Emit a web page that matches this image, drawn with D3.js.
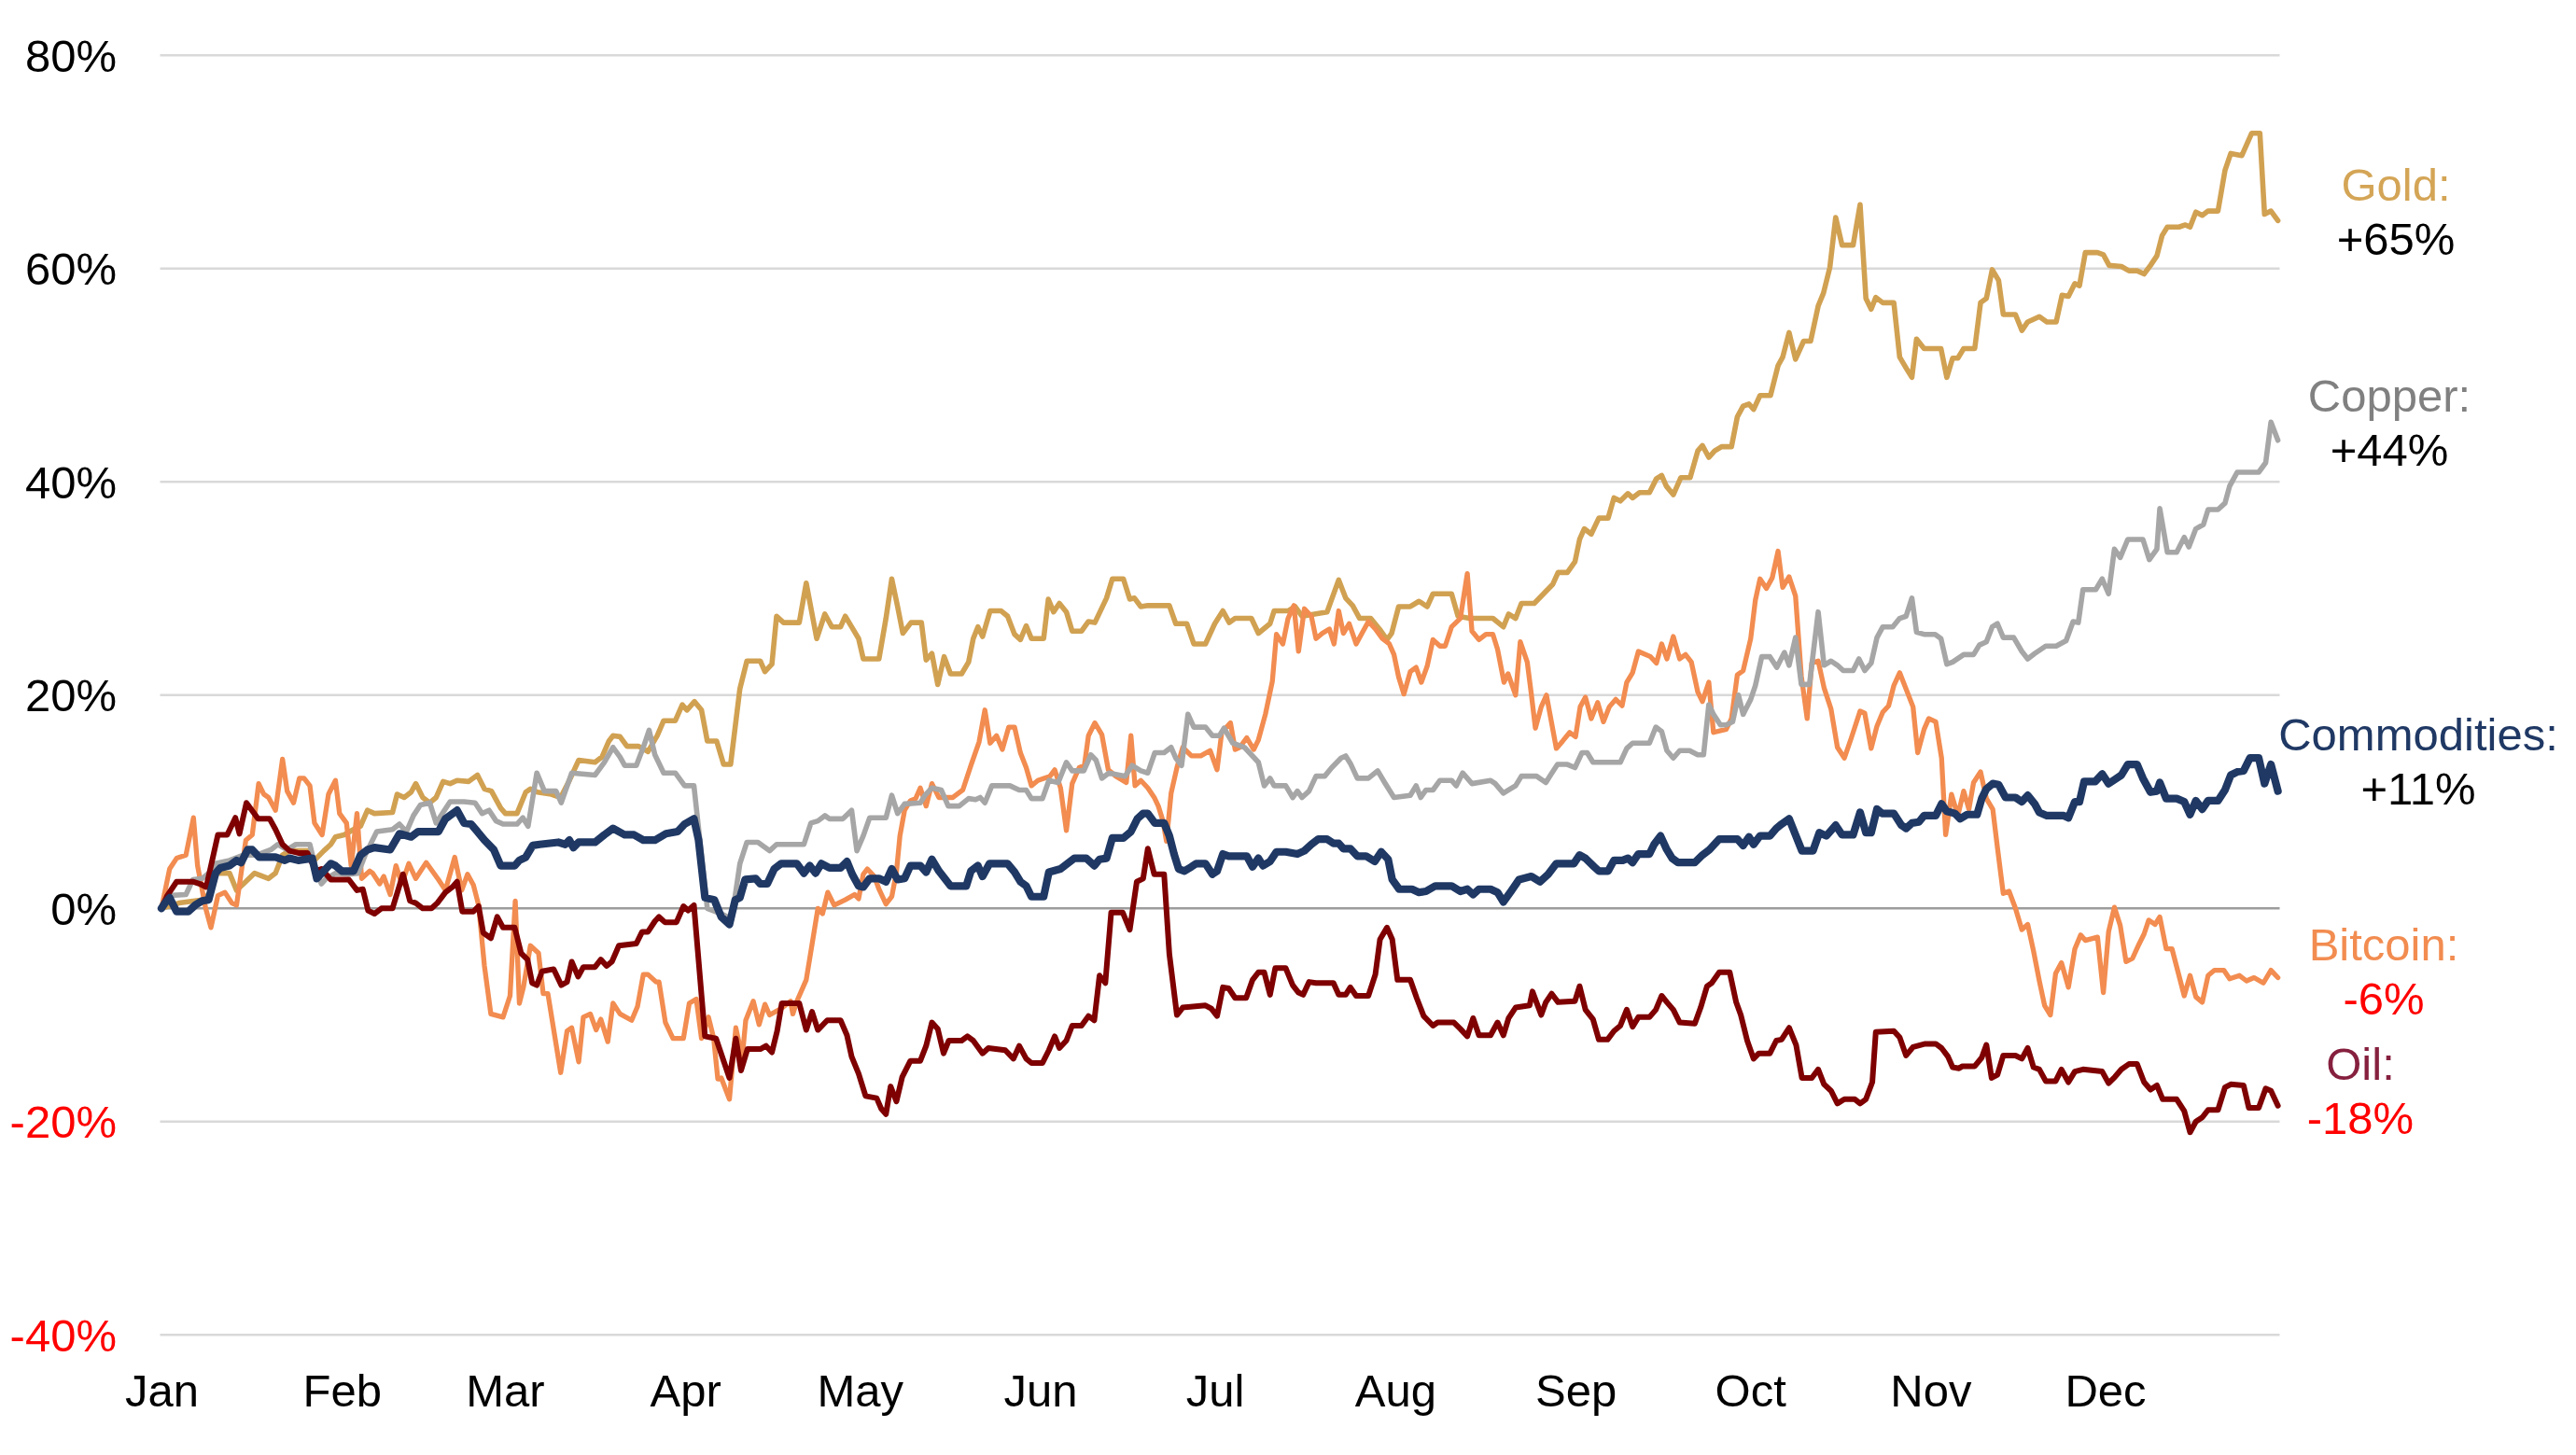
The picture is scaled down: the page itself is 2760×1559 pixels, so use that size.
<!DOCTYPE html>
<html>
<head>
<meta charset="utf-8">
<title>Commodities 2025</title>
<script src="https://cdn.jsdelivr.net/npm/d3@7"></script>
<style>
  html, body { margin: 0; padding: 0; background: #ffffff; }
  svg { display: block; }
  text { font-family: "Liberation Sans", Arial, sans-serif; }
</style>
</head>
<body>
<svg id="chart"></svg>
<script>
// Values: [day of 2025 (0 = 1 Jan), % change since 1 Jan]
const gold = [[0,0],[3,0.5],[7,0.8],[8.1,1.3],[9.3,3.3],[11.7,3.3],[12.9,1.7],[14.1,2.3],[16,3.3],[18.4,2.8],[19.6,3.3],[20.8,5.0],[22,5.4],[25.1,5.4],[25.9,4.3],[27.9,5.4],[29.1,6.0],[29.9,6.7],[31.4,6.9],[33,7.4],[34.2,7.7],[35.4,9.2],[36.6,8.9],[39.7,9.0],[40.5,10.7],[41.7,10.4],[42.9,10.9],[43.7,11.7],[44.9,10.4],[46.1,9.9],[47.2,10.4],[48.4,11.9],[49.6,11.7],[50.8,12.0],[52.8,11.9],[54.3,12.5],[55.5,11.2],[56.7,11.0],[58.3,9.4],[59.1,8.9],[61.1,8.9],[62.6,10.9],[63.4,11.2],[64.6,10.9],[67,10.7],[68.6,10.4],[70.1,12.0],[71.7,13.9],[74.5,13.7],[75.7,14.2],[76.9,15.7],[77.6,16.2],[78.8,16.1],[80,15.2],[82,15.2],[83.6,14.7],[85.2,16.2],[86.3,17.6],[88.3,17.6],[89.5,19.1],[90.3,18.6],[91.6,19.4],[92.8,18.6],[93.8,15.7],[95.4,15.7],[96.6,13.5],[97.8,13.5],[99.4,20.6],[100.6,23.2],[102.9,23.2],[103.7,22.2],[104.9,22.9],[105.7,27.4],[106.9,26.8],[109.6,26.8],[110.8,30.5],[112.6,25.3],[114,27.6],[115.2,26.4],[116.7,26.4],[117.5,27.4],[118.6,26.4],[119.8,25.3],[120.6,23.4],[123.3,23.4],[124.5,27.2],[125.5,30.9],[126.5,28.3],[127.4,25.8],[128.8,26.8],[130.6,26.8],[131.4,23.3],[132.4,23.9],[133.4,21.0],[134.5,23.6],[135.6,22.0],[137.5,22.0],[138.7,23.1],[139.5,25.3],[140.3,26.4],[141.1,25.5],[142.4,27.9],[144.3,27.9],[145.4,27.4],[146.6,25.7],[147.6,25.2],[148.6,26.5],[149.5,25.3],[151.6,25.3],[152.4,29.0],[153.3,27.8],[154.3,28.6],[155.5,27.8],[156.5,26.0],[158.1,26.0],[159.3,26.9],[160.4,26.8],[162.4,29.1],[163.4,30.9],[165.3,30.9],[166.4,29.0],[167.2,29.1],[168.3,28.3],[169.5,28.4],[173.2,28.4],[174.3,26.7],[176.2,26.7],[177.4,24.8],[179.4,24.8],[181,26.7],[182.4,27.9],[183.5,26.8],[184.5,27.2],[187.3,27.2],[188.5,25.8],[190.5,26.7],[191.2,27.9],[193.6,27.9],[194.8,28.3],[196,27.4],[200.3,27.8],[202.3,30.8],[203.5,29.1],[204.7,28.4],[205.9,27.2],[207.8,27.2],[209.3,26.2],[210.6,25.2],[211.4,25.8],[212.6,28.3],[214.6,28.3],[216.1,28.8],[217.5,28.3],[218.5,29.5],[221.7,29.5],[222.8,27.4],[224.8,27.2],[228.8,27.2],[230.6,26.4],[231.5,27.6],[232.7,27.2],[233.7,28.6],[235.9,28.6],[237.5,29.5],[239.1,30.4],[240,31.5],[241.6,31.5],[242.9,32.5],[243.7,34.6],[244.5,35.6],[245.7,35.1],[247,36.6],[248.6,36.6],[249.6,38.5],[250.7,38.2],[252,38.9],[252.8,38.5],[254,39.0],[255.7,39.0],[256.9,40.3],[257.8,40.6],[258.6,39.6],[259.8,38.8],[261.1,40.4],[262.7,40.4],[264,42.9],[264.8,43.4],[265.9,42.3],[266.9,42.9],[268.1,43.3],[269.8,43.3],[270.8,46.1],[271.8,47.1],[272.8,47.3],[273.6,46.8],[274.7,48.1],[276.5,48.1],[277.8,50.9],[278.6,51.7],[279.7,54.0],[280.8,51.5],[282.2,53.2],[283.4,53.2],[284.7,56.5],[285.6,57.7],[286.7,60.1],[287.7,64.8],[288.8,62.2],[290.7,62.2],[291.9,66.0],[292.9,57.2],[293.8,56.2],[294.6,57.3],[295.8,56.8],[297.7,56.8],[298.7,51.7],[300,50.5],[300.8,49.8],[301.6,53.4],[302.9,52.5],[305.8,52.5],[306.8,49.8],[307.8,51.6],[308.7,51.6],[309.7,52.5],[311.6,52.5],[312.6,56.8],[313.6,57.2],[314.6,59.9],[315.7,58.9],[316.5,55.7],[318.6,55.7],[319.7,54.2],[320.7,55.0],[322.7,55.5],[324,55.0],[325.6,55.0],[326.6,57.5],[327.7,57.4],[328.8,58.6],[329.6,58.4],[330.6,61.5],[332.7,61.5],[333.7,61.3],[334.7,60.3],[336.8,60.2],[338.1,59.8],[339.5,59.8],[340.7,59.5],[341.8,60.3],[342.9,61.2],[343.8,63.1],[344.7,63.9],[346.7,63.9],[347.8,64.1],[348.6,63.9],[349.6,65.3],[350.7,65.0],[351.7,65.4],[353.4,65.4],[354.6,69.2],[355.6,70.8],[357.5,70.6],[359.2,72.7],[360.6,72.7],[361.4,65.1],[362.5,65.4],[363.7,64.5]];

const copper = [[0,0],[1,1.2],[4.2,1.3],[5.4,2.7],[7,2.8],[8.1,3.3],[9.3,4.2],[11.7,4.5],[14.1,5.0],[16.4,5.0],[18.8,5.5],[20,6.0],[21.6,5.5],[23.1,6.0],[25.5,6.0],[26.7,3.3],[27.5,2.3],[28.3,2.8],[29.9,3.3],[32.2,3.2],[33.8,3.3],[35,5.0],[37,7.2],[39.7,7.4],[40.9,7.9],[42.1,7.2],[43.3,8.7],[44.5,9.7],[46.1,9.9],[47.2,8.0],[49.6,10.0],[52,10.0],[53.9,9.9],[55.1,8.9],[56.3,9.2],[57.5,8.2],[58.7,7.9],[61.1,7.9],[62.1,8.5],[63,7.7],[64.5,12.7],[65.8,11.0],[67.8,11.0],[68.7,9.9],[70.5,12.7],[74.5,12.5],[76.1,13.7],[77.6,15.1],[78.8,14.2],[79.6,13.4],[81.6,13.4],[82.8,15.1],[83.8,16.7],[84.8,14.4],[86.3,12.7],[88.3,12.7],[89.9,11.5],[91.5,11.5],[93.8,0.0],[96.2,-0.5],[98,-1.0],[99.4,4.2],[100.6,6.2],[102.5,6.2],[104.5,5.4],[105.7,6.0],[110.4,6.0],[111.6,8.0],[112.8,8.2],[114,8.7],[114.8,8.4],[117.1,8.4],[118.6,9.2],[119.5,5.4],[120.6,6.8],[121.7,8.5],[124.5,8.5],[125.5,10.6],[126.5,8.9],[127.7,9.8],[130.4,9.9],[131.2,10.6],[132.4,11.3],[134,11.1],[135.2,9.6],[137.1,9.6],[138.7,10.3],[139.9,10.2],[140.7,10.4],[141.5,9.9],[142.7,11.5],[145.8,11.5],[147.4,11.1],[148.6,11.1],[149.5,10.3],[151.4,10.3],[152.5,12.0],[154.1,11.8],[155.5,13.7],[156.5,12.9],[158.5,12.9],[159.7,14.4],[160.6,13.9],[161.6,12.2],[162.8,12.7],[165.6,12.4],[166.8,13.4],[168.3,12.9],[169.5,12.7],[170.7,14.6],[172.3,14.6],[173.5,15.1],[174.3,14.1],[175.3,13.4],[176.4,18.2],[177.4,17.0],[179.4,17.0],[180.6,16.2],[181.8,16.2],[182.6,16.9],[184.1,15.5],[186.1,15.1],[187.3,14.4],[188.5,13.7],[189.5,11.5],[190.5,12.2],[191.2,11.5],[193.2,11.5],[194.4,10.4],[195.2,11.0],[196,10.4],[197.2,11.0],[198.4,12.4],[199.9,12.4],[201.1,13.2],[202.7,14.1],[203.5,14.3],[204.3,13.6],[205.5,12.2],[207.4,12.2],[209,12.9],[210.2,11.8],[211.8,10.4],[214.6,10.6],[215.6,11.5],[216.4,10.4],[217.3,11.1],[218.5,11.1],[219.7,12.0],[221.7,12.0],[222.5,11.5],[223.6,12.7],[225.2,11.7],[228.4,12.0],[229.2,11.7],[230.6,10.8],[231.5,11.1],[232.7,11.5],[233.7,12.4],[236.3,12.4],[237.9,11.8],[238.7,12.5],[239.9,13.5],[241.6,13.5],[242.9,13.2],[244.1,14.6],[245,14.6],[246,13.7],[250.7,13.7],[251.8,15.0],[252.8,15.5],[255.7,15.5],[256.8,17.0],[257.8,16.6],[258.7,14.8],[259.8,14.1],[260.9,14.8],[262.6,14.8],[264,14.4],[265,14.4],[265.9,19.1],[266.7,18.2],[267.9,17.2],[268.9,17.2],[270,17.5],[271,20.0],[271.8,18.2],[273.1,19.6],[273.9,20.9],[275,23.6],[276.4,23.6],[277.6,22.6],[278.9,24.0],[279.7,22.8],[280.8,25.4],[281.8,21.0],[283.2,21.0],[284.7,27.8],[285.7,22.8],[286.9,23.2],[288,22.8],[289,22.3],[290.7,22.3],[291.7,23.4],[292.7,22.3],[293.8,23.0],[294.8,25.4],[295.8,26.4],[297.5,26.4],[298.7,27.2],[299.8,27.4],[300.8,29.1],[301.6,25.9],[302.9,25.7],[304.8,25.7],[305.8,25.3],[306.8,22.9],[307.8,23.1],[309.7,23.8],[311.4,23.8],[312.4,24.7],[313.6,25.0],[314.6,26.4],[315.5,26.7],[316.5,25.4],[318.3,25.4],[319.7,24.1],[320.7,23.4],[321.9,23.9],[323.8,24.6],[325.6,24.6],[327.3,25.1],[328.5,26.9],[329.4,26.8],[330.2,29.9],[332.4,29.9],[333.5,30.9],[334.6,29.5],[335.6,33.7],[336.6,32.9],[337.9,34.6],[340.5,34.6],[341.6,32.7],[342.9,33.7],[343.4,37.5],[344.7,33.4],[346.3,33.4],[347.6,34.8],[348.4,33.9],[349.6,35.6],[350.9,36.0],[351.7,37.4],[353.4,37.4],[354.6,38.0],[355.4,39.6],[356.7,40.9],[360.4,40.9],[361.6,41.8],[362.5,45.6],[363.7,43.9]];

const bitcoin = [[0,0],[1.4,3.7],[2.6,4.7],[4.2,5.0],[5.5,8.5],[6.2,4.0],[7.6,0],[8.5,-1.8],[9.7,1.2],[10.9,1.5],[12.1,0.5],[12.9,0.3],[14.5,6.4],[15.6,6.9],[16.7,11.7],[17.6,10.7],[18.4,10.4],[19.6,9.2],[20.8,14.0],[21.6,11.0],[22.7,9.9],[23.7,12.2],[24.5,12.2],[25.5,11.5],[26.3,8.0],[27.6,6.9],[28.7,10.7],[29.9,12.0],[30.6,8.9],[31.8,8.0],[32.6,4.0],[33.6,8.9],[34.4,2.8],[35.8,3.5],[36.3,3.3],[37.5,2.3],[38.2,3.0],[39.3,1.3],[40.3,4.0],[41.3,2.3],[42.5,4.2],[43.7,2.8],[45.5,4.3],[47.6,2.7],[48.8,1.7],[50.4,4.8],[51.6,1.7],[52.6,3.2],[53.6,2.2],[54.5,0.3],[55.5,-5.4],[56.6,-9.9],[58.7,-10.2],[59.9,-8.2],[60.8,0.7],[61.5,-8.9],[62.2,-7.4],[63.4,-3.5],[64.8,-4.2],[65.6,-8.0],[66.4,-8.0],[68.6,-15.4],[69.7,-11.5],[70.5,-11.2],[71.7,-14.4],[72.5,-10.2],[73.7,-9.9],[74.7,-11.4],[75.5,-10.4],[76.7,-12.5],[77.6,-8.9],[78.8,-9.9],[80.8,-10.5],[81.8,-9.2],[82.8,-6.2],[83.6,-6.2],[85,-6.9],[85.5,-6.9],[86.6,-10.7],[87.9,-12.2],[89.7,-12.2],[90.7,-8.9],[91.9,-8.5],[92.8,-12.2],[94,-10.2],[94.9,-12.2],[95.6,-16.0],[96.2,-15.9],[97.6,-17.9],[98.7,-11.2],[99.8,-14.0],[100.4,-10.5],[101.7,-8.7],[102.7,-10.9],[103.7,-9.0],[104.5,-10.0],[106.5,-9.4],[108.1,-8.7],[108.5,-9.9],[109.2,-8.7],[110.8,-6.7],[112,-2.7],[112.8,0],[113.6,-0.5],[114.5,1.5],[115.6,0.3],[117.5,0.8],[119.1,1.3],[119.8,0.9],[120.6,3.2],[121.3,3.7],[122.5,3.0],[123.3,1.8],[124.5,0.4],[125.5,1.1],[126.3,3.4],[126.9,6.8],[127.7,9.2],[128.7,10.1],[129.6,10.3],[130.4,11.3],[131.4,9.6],[132.4,11.7],[133.6,10.4],[136,10.4],[137.7,11.1],[139.1,13.4],[140.5,15.6],[141.5,18.6],[142.4,15.5],[143.5,16.2],[144.5,14.9],[145.6,17.0],[146.6,17.0],[147.6,14.6],[148.6,13.2],[149.5,11.5],[150.6,12.0],[152.7,12.4],[153.5,13.0],[154.5,11.3],[155.5,7.3],[156.5,11.7],[157.7,13.2],[158.6,13.4],[159.3,16.2],[160.4,17.4],[161.6,16.3],[162.7,13.0],[164,12.4],[165.8,11.8],[166.6,16.2],[167.3,11.5],[168.3,12.0],[169.5,11.3],[170.6,10.4],[171.3,9.6],[172.1,8.2],[172.7,6.3],[173.5,10.8],[174.5,13.2],[175.5,15.1],[177,14.3],[178.6,14.3],[180.2,14.8],[181.4,13.0],[182.2,16.5],[183.7,17.4],[184.5,14.9],[185.3,15.1],[186.5,16.0],[187.7,14.9],[188.5,15.8],[189.7,18.2],[190.9,21.3],[191.6,25.7],[192.7,24.8],[193.6,27.2],[194.6,28.4],[195.4,24.1],[196.4,28.1],[197.6,27.4],[198.4,25.3],[199.5,25.8],[200.7,26.2],[201.5,24.8],[202.3,27.9],[203.1,25.8],[204.1,26.7],[205.3,24.8],[206.3,25.8],[207.4,26.9],[208.6,26.2],[209.8,25.3],[211,24.8],[211.8,23.8],[212.6,21.7],[213.5,20.1],[214.6,22.2],[215.6,22.6],[216.5,21.2],[217.5,22.7],[218.5,25.2],[219.7,24.6],[220.6,24.6],[221.7,26.4],[223.2,27.2],[224.4,31.4],[225.2,26.0],[226.4,25.2],[227.6,25.7],[228.8,25.7],[229.6,24.3],[230.7,21.2],[231.4,22.0],[232.7,20.0],[233.5,25.0],[234.7,23.1],[235.4,20.1],[236.1,16.9],[237.1,18.9],[238,20.0],[239.7,15.0],[240.8,15.7],[242,16.5],[243,16.1],[243.8,18.9],[244.7,19.8],[245.7,17.8],[246.8,19.3],[247.8,17.5],[248.8,18.9],[249.9,19.6],[251,19.0],[251.8,21.2],[252.8,22.1],[253.8,24.1],[255.9,23.6],[256.9,23.0],[257.8,24.8],[258.7,23.4],[259.8,25.5],[260.9,23.4],[261.9,23.8],[262.9,23.1],[264,20.3],[264.8,19.4],[265.9,21.2],[266.7,16.5],[268.9,16.8],[269.8,17.8],[270.8,21.9],[271.8,22.3],[273.1,25.3],[273.9,28.9],[274.7,30.9],[275.8,30.0],[276.8,31.0],[277.8,33.5],[278.6,30.1],[279.7,31.1],[280.8,29.3],[281.8,21.8],[282.8,17.8],[283.6,23.0],[284.7,23.2],[285.7,20.7],[286.9,18.7],[288,15.1],[289.2,14.1],[290.4,16.0],[291.9,18.5],[292.7,18.3],[293.8,15.0],[294.8,17.1],[295.8,18.4],[296.8,19.0],[297.7,20.9],[298.7,22.1],[301,18.9],[301.8,14.6],[302.9,16.8],[303.7,17.8],[304.9,17.5],[305.9,14.1],[306.6,6.9],[307.6,10.7],[308.7,8.7],[309.7,11.0],[310.6,9.3],[311.4,11.8],[312.6,12.8],[313.6,10.3],[314.7,9.3],[315.5,5.7],[316.5,1.4],[317.5,1.6],[318.6,0],[319.7,-2.0],[320.7,-1.5],[321.7,-4.0],[322.7,-6.8],[323.6,-9.1],[324.6,-10.0],[325.5,-6.1],[326.5,-5.1],[327.7,-7.4],[328.8,-3.8],[329.8,-2.5],[330.6,-3.0],[332.7,-2.7],[333.7,-7.9],[334.6,-2.2],[335.6,0.1],[336.6,-1.6],[337.6,-5.0],[338.7,-4.7],[339.7,-3.5],[340.7,-2.4],[341.5,-1.1],[342.6,-1.5],[343.4,-0.8],[344.5,-3.8],[345.5,-3.8],[346.6,-6.1],[347.6,-8.2],[348.6,-6.3],[349.6,-8.3],[350.7,-8.8],[351.7,-6.3],[352.8,-5.8],[354.4,-5.8],[355.4,-6.6],[357.1,-6.3],[358.3,-6.8],[359.6,-6.5],[361.2,-7.0],[362.5,-5.8],[363.7,-6.5]];

const oil = [[0,0],[1,1.2],[2.6,2.5],[5.4,2.5],[6.6,2.3],[7.7,2.0],[9.7,6.9],[11.3,6.9],[12.7,8.5],[13.4,7.0],[14.6,9.9],[16.6,8.4],[18.6,8.4],[19.6,7.4],[20.8,6.0],[22,5.4],[23.5,5.2],[25.1,5.2],[26.5,3.5],[27.5,3.7],[29.1,2.7],[32.2,2.7],[33.6,1.7],[34.6,1.8],[35.5,-0.2],[36.6,-0.5],[37.8,0],[39.7,0],[41.5,3.2],[42.7,0.7],[43.7,0.5],[44.9,0],[46.4,0],[47.4,0.5],[48.8,1.5],[50,2.0],[50.8,2.5],[51.7,-0.3],[53.6,-0.3],[54.5,0.2],[55.3,-2.3],[56.6,-2.8],[57.7,-0.8],[58.7,-1.8],[60.7,-1.8],[61.8,-4.2],[62.9,-4.8],[63.7,-7.0],[64.5,-7.2],[65.4,-5.9],[67.4,-5.7],[68.7,-7.2],[69.7,-6.9],[70.5,-5.0],[71.6,-6.4],[72.5,-5.5],[74.5,-5.5],[75.5,-4.8],[76.5,-5.4],[77.4,-5.0],[78.6,-3.5],[81.6,-3.3],[82.6,-2.2],[83.6,-2.2],[84.8,-1.2],[85.5,-0.8],[86.5,-1.3],[88.5,-1.3],[89.7,0.2],[90.5,-0.2],[91.5,0.3],[93.4,-12.0],[95.3,-12.2],[97.6,-15.9],[98.7,-12.2],[99.6,-15.2],[100.7,-13.2],[102.9,-13.2],[103.9,-12.9],[104.9,-13.5],[105.8,-11.5],[106.6,-8.9],[109.6,-8.9],[110.8,-11.4],[111.8,-9.7],[112.8,-11.4],[114.4,-10.5],[116.7,-10.5],[117.8,-11.9],[118.6,-13.9],[119.8,-15.5],[121,-17.6],[122.9,-17.8],[123.7,-18.8],[124.5,-19.3],[125.3,-16.7],[126.3,-18.1],[127.3,-15.8],[128.7,-14.3],[130.4,-14.3],[131.4,-12.9],[132.4,-10.7],[133.4,-11.3],[134.4,-13.6],[135.3,-12.4],[137.5,-12.4],[138.5,-12.0],[139.5,-12.4],[141.1,-13.6],[142.1,-13.1],[145,-13.3],[146.4,-14.1],[147.4,-12.9],[148.6,-14.1],[149.5,-14.5],[151.4,-14.5],[152.5,-13.3],[153.5,-12.0],[154.3,-13.1],[155.5,-12.4],[156.5,-11.0],[158.1,-11.0],[159.3,-10.1],[160.3,-10.5],[161.2,-6.3],[162.2,-7.0],[163.2,-0.4],[165.2,-0.4],[166.4,-2.0],[167.6,2.5],[168.7,2.8],[169.5,5.6],[170.6,3.2],[172.3,3.2],[173.2,-4.3],[174.5,-10.0],[175.5,-9.3],[179.4,-9.1],[180.4,-9.4],[181.4,-10.1],[182.4,-7.4],[183.4,-7.5],[184.5,-8.4],[186.4,-8.4],[187.5,-6.7],[188.5,-6.0],[189.5,-6.0],[190.5,-8.1],[191.4,-5.6],[193.2,-5.6],[194.4,-7.2],[195.4,-7.9],[196.2,-8.1],[197.2,-6.9],[198.4,-7.0],[201.4,-7.0],[202.3,-8.1],[203.5,-8.1],[204.3,-7.4],[205.3,-8.2],[207.4,-8.2],[208.6,-6.2],[209.4,-2.9],[210.6,-1.8],[211.5,-2.9],[212.4,-6.7],[214.6,-6.7],[215.7,-8.4],[216.9,-10.1],[218.5,-11.0],[219.3,-10.7],[222.1,-10.7],[223.2,-11.3],[224.4,-12.0],[225.4,-10.3],[226.4,-11.9],[228.4,-11.9],[229.6,-10.7],[230.6,-11.9],[231.5,-10.3],[232.7,-9.3],[235.1,-9.1],[235.6,-7.8],[237.1,-10.0],[237.9,-8.8],[238.9,-8.0],[240,-8.8],[242.9,-8.7],[243.7,-7.3],[244.7,-9.5],[246,-10.4],[247,-12.3],[248.5,-12.3],[249.6,-11.5],[250.7,-11.0],[251.8,-9.5],[252.8,-11.1],[253.8,-10.2],[255.7,-10.2],[256.8,-9.5],[257.8,-8.2],[258.7,-8.8],[259.8,-9.5],[260.9,-10.7],[263.5,-10.8],[264.5,-9.3],[265.6,-7.3],[266.4,-7.0],[267.7,-6.0],[269.5,-6.0],[270.6,-8.8],[271.4,-10.0],[272.5,-12.4],[273.6,-14.1],[274.5,-13.6],[276.4,-13.6],[277.5,-12.4],[278.4,-12.3],[279.7,-11.2],[280.9,-12.8],[281.9,-15.9],[283.6,-15.9],[284.7,-15.1],[285.7,-16.5],[286.9,-17.1],[288,-18.3],[289.2,-17.9],[291,-17.9],[291.9,-18.3],[292.9,-17.9],[294,-16.3],[294.6,-11.6],[297.7,-11.5],[298.7,-12.1],[299.8,-13.8],[301,-13.0],[303.1,-12.7],[304.9,-12.7],[305.9,-13.1],[307,-13.9],[307.8,-14.9],[308.9,-15.0],[309.5,-14.8],[311.6,-14.8],[312.8,-14.0],[313.6,-12.8],[314.5,-15.9],[315.5,-15.6],[316.5,-13.8],[318.6,-13.8],[319.7,-14.1],[320.7,-13.1],[321.7,-14.9],[322.7,-15.1],[323.8,-16.2],[325.5,-16.2],[326.5,-15.1],[327.7,-16.3],[328.8,-15.3],[330.2,-15.1],[333.5,-15.3],[334.6,-16.4],[335.7,-15.8],[336.8,-15.1],[338.1,-14.6],[339.5,-14.6],[340.7,-16.3],[341.8,-17.0],[342.9,-16.6],[343.9,-17.9],[346.3,-17.9],[347.6,-19.0],[348.6,-21.0],[349.6,-20.0],[350.7,-19.6],[351.7,-18.9],[353.4,-18.9],[354.6,-16.8],[355.6,-16.5],[357.8,-16.6],[358.7,-18.7],[360.4,-18.7],[361.6,-16.9],[362.5,-17.1],[363.7,-18.5]];

const commodities = [[0,0],[0.6,0.5],[1.4,1.0],[2.6,-0.3],[4.6,-0.3],[5.8,0.3],[7,0.7],[8.1,0.8],[9.3,3.3],[10.1,3.8],[11.7,4.0],[12.9,4.5],[13.7,4.3],[14.8,5.5],[15.6,5.5],[16.8,4.8],[19.6,4.8],[21.2,4.5],[22,4.7],[23.5,4.5],[25.9,4.7],[26.7,2.8],[27.9,3.5],[29.1,4.2],[29.9,4.0],[31,3.5],[33,3.5],[34.2,5.0],[35.4,5.5],[36.6,5.7],[39.3,5.5],[40.9,7.0],[42.9,6.7],[44.1,7.2],[47.6,7.2],[48.8,8.4],[50.8,9.2],[52,8.0],[53.2,7.9],[54.3,7.2],[55.5,6.4],[57.1,5.5],[58.3,4.0],[60.7,4.0],[61.5,4.5],[62.6,4.8],[63.8,5.9],[65,6.0],[68.2,6.2],[69.4,6.0],[70.1,6.4],[70.8,5.7],[71.7,6.2],[74.5,6.2],[76.1,6.9],[77.6,7.5],[79.6,6.9],[81.2,6.9],[82.8,6.4],[84.8,6.4],[86.7,7.0],[88.7,7.2],[89.9,7.9],[91.5,8.4],[92.3,6.4],[93.4,1.0],[95,0.8],[96.2,-0.8],[97.6,-1.5],[98.6,0.8],[99.4,1.0],[100.3,2.7],[102.1,2.8],[102.9,2.3],[104.1,2.3],[105.3,3.7],[106.5,4.2],[109.2,4.2],[110.4,3.3],[111.4,4.0],[112.4,3.3],[113.4,4.2],[114.8,3.8],[116.7,3.8],[117.8,4.4],[118.7,3.2],[119.8,2.1],[120.6,2.0],[121.7,2.8],[123.3,2.8],[124.5,2.5],[125.5,3.7],[126.5,2.7],[127.7,2.8],[128.7,4.0],[130.4,4.0],[131.4,3.4],[132.4,4.6],[133.6,3.5],[135.6,2.1],[138.3,2.1],[139.1,3.5],[140.3,4.0],[141.1,3.0],[142.3,4.2],[145.4,4.2],[146.6,3.4],[147.6,2.5],[148.6,2.1],[149.5,1.1],[151.6,1.1],[152.5,3.4],[154.5,3.7],[155.7,4.2],[156.9,4.7],[158.9,4.7],[160.3,4.0],[161.2,4.6],[162.4,4.7],[163.4,6.6],[165.3,6.6],[166.6,7.2],[167.7,8.4],[168.7,8.9],[169.5,8.9],[170.7,8.0],[172.3,8.0],[173.2,6.8],[174,5.1],[174.8,3.7],[175.8,3.5],[177,3.9],[177.8,4.2],[179.4,4.2],[180.6,3.2],[181.4,3.5],[182.4,5.1],[183.4,4.9],[186.5,4.9],[187.5,3.9],[188.5,4.7],[189.3,4.0],[190.5,4.4],[191.6,5.3],[193.2,5.3],[195.2,5.1],[196.4,5.4],[197.6,6.0],[198.8,6.5],[200.3,6.5],[201.4,6.1],[202.3,6.1],[203.1,5.6],[204.3,5.6],[205.5,4.9],[207,4.9],[208.5,4.4],[209.6,5.3],[210.8,4.6],[211.5,2.7],[212.7,1.8],[214.9,1.8],[216.1,1.5],[217.3,1.6],[218.9,2.1],[221.7,2.1],[223.2,1.6],[224.4,1.8],[225.4,1.3],[226.4,1.8],[228.4,1.8],[229.6,1.5],[230.6,0.6],[231.9,1.6],[233.3,2.7],[235.4,3.0],[236.9,2.5],[238.3,3.2],[239.7,4.2],[242.7,4.2],[243.7,5.0],[244.7,4.7],[246.2,3.9],[247,3.5],[248.6,3.5],[249.6,4.5],[251.1,4.5],[252,4.7],[252.8,4.3],[253.8,5.1],[255.7,5.1],[256.5,6.0],[257.6,6.8],[258.6,5.6],[259.6,4.7],[260.6,4.3],[263.5,4.3],[264.8,5.0],[266,5.5],[267.7,6.5],[270.8,6.5],[271.8,5.9],[272.8,6.7],[273.6,6.0],[274.7,6.8],[276.4,6.8],[277.5,7.5],[278.4,7.9],[279.7,8.4],[280.8,6.9],[281.9,5.4],[283.8,5.4],[284.9,7.1],[286.1,6.8],[287.7,7.8],[288.8,6.9],[290.7,6.9],[291.9,9.0],[292.9,7.1],[293.8,7.1],[294.8,9.3],[295.7,8.9],[297.7,8.9],[299,7.8],[299.8,7.5],[300.8,8.0],[302,8.1],[302.9,8.7],[304.9,8.7],[305.9,9.8],[306.8,9.1],[308.2,8.9],[309.1,8.4],[310.3,8.8],[312,8.8],[312.8,10.3],[313.6,11.2],[314.7,11.7],[315.7,11.6],[316.9,10.4],[318.6,10.4],[319.7,10.0],[320.7,10.6],[321.9,9.8],[322.7,9.0],[324,8.7],[326.9,8.7],[327.7,8.5],[328.8,10.0],[329.6,10.0],[330.4,11.9],[332.3,11.9],[333.5,12.6],[334.6,11.7],[335.7,12.1],[336.8,12.5],[337.9,13.5],[339.5,13.5],[340.5,12.2],[341.8,10.9],[342.9,11.0],[343.4,11.8],[344.5,10.3],[346.3,10.3],[347.6,10.0],[348.6,8.8],[349.6,10.1],[350.7,9.3],[351.7,10.1],[353.4,10.1],[354.6,11.1],[355.6,12.5],[356.7,12.8],[357.8,12.9],[358.9,14.1],[360.4,14.1],[361.4,11.7],[362.5,13.5],[363.7,11.0]];

// Axis ticks
const yTicks = [-40, -20, 0, 20, 40, 60, 80];
const monthLabels = ["Jan", "Feb", "Mar", "Apr", "May", "Jun", "Jul", "Aug", "Sep", "Oct", "Nov", "Dec"];

// End-of-year labels
const labelNames = ["Gold:", "Copper:", "Commodities:", "Bitcoin:", "Oil:"];
const labelValues = ["+65%", "+44%", "+11%", "-6%", "-18%"];

// Styling, kept apart from the data (drawn in this order)
const lineStyles = [
  { data: gold,        color: "#D1A152", width: 5.6 },
  { data: bitcoin,     color: "#F28C50", width: 5.3 },
  { data: copper,      color: "#A6A6A6", width: 5.6 },
  { data: oil,         color: "#7F0000", width: 6.0 },
  { data: commodities, color: "#1F3864", width: 8.2 }
];
const labelStyles = [
  { nameColor: "#D4A556", valueColor: "#000000", x: 2567, y: 215 },
  { nameColor: "#808080", valueColor: "#000000", x: 2560, y: 441 },
  { nameColor: "#1F3864", valueColor: "#000000", x: 2591, y: 804 },
  { nameColor: "#F28C50", valueColor: "#FF0000", x: 2554, y: 1029 },
  { nameColor: "#86203F", valueColor: "#FF0000", x: 2529, y: 1157 }
];

drawChart();

function drawChart() {
  const width = 2760;
  const height = 1559;
  const margin = { top: 59.3, right: 317.5, bottom: 128.7, left: 173 };
  const fontSize = 49;

  const svg = d3.select("#chart")
      .attr("width", width)
      .attr("height", height);

  const start = new Date(2025, 0, 1);
  const end = new Date(2025, 11, 31);
  const toDate = day => new Date(start.getTime() + day * 864e5);

  // X scale (time)
  const x = d3.scaleTime()
      .domain([start, end])
      .range([margin.left, width - margin.right]);

  // Y scale (percent)
  const y = d3.scaleLinear()
      .domain([-40, 80])
      .range([height - margin.bottom, margin.top]);

  // Gridlines
  svg.append("g")
      .selectAll("line")
      .data(yTicks)
      .enter().append("line")
      .attr("x1", margin.left - 1.5)
      .attr("x2", width - margin.right)
      .attr("y1", d => y(d))
      .attr("y2", d => y(d))
      .attr("stroke", d => d === 0 ? "#9C9C9C" : "#D9D9D9")
      .attr("stroke-width", 2.6);

  // Y axis labels
  const yAxis = svg.append("g")
      .attr("transform", "translate(125,0)")
      .call(d3.axisLeft(y).tickValues(yTicks).tickSize(0).tickPadding(0).tickFormat(d => d + "%"));
  yAxis.select(".domain").remove();
  yAxis.selectAll("text")
      .attr("dy", "0.35em")
      .attr("font-size", fontSize)
      .attr("font-family", "Liberation Sans, Arial, sans-serif")
      .attr("fill", d => d < 0 ? "#FF0000" : "#000000");

  // X axis labels at month starts
  const months = d3.timeMonth.range(start, end);
  const xAxis = svg.append("g")
      .attr("transform", "translate(0," + y(-40) + ")")
      .call(d3.axisBottom(x).tickValues(months).tickSize(0).tickFormat((d, i) => monthLabels[i]));
  xAxis.select(".domain").remove();
  xAxis.selectAll("text")
      .attr("y", 77)
      .attr("dy", null)
      .attr("font-size", fontSize)
      .attr("font-family", "Liberation Sans, Arial, sans-serif")
      .attr("fill", "#000000");

  // Line generator
  const line = d3.line()
      .x(d => x(toDate(d[0])))
      .y(d => y(d[1]));

  // Draw lines
  svg.append("g")
      .selectAll("path")
      .data(lineStyles)
      .enter().append("path")
      .attr("d", d => line(d.data))
      .attr("fill", "none")
      .attr("stroke", d => d.color)
      .attr("stroke-width", d => d.width)
      .attr("stroke-linejoin", "round")
      .attr("stroke-linecap", "round");

  // End labels
  const labels = svg.append("g")
      .selectAll("g")
      .data(labelStyles)
      .enter().append("g");

  labels.append("text")
      .attr("x", d => d.x)
      .attr("y", d => d.y)
      .attr("text-anchor", "middle")
      .attr("font-size", fontSize)
      .attr("fill", d => d.nameColor)
      .text((d, i) => labelNames[i]);

  labels.append("text")
      .attr("x", d => d.x)
      .attr("y", d => d.y + 58)
      .attr("text-anchor", "middle")
      .attr("font-size", fontSize)
      .attr("fill", d => d.valueColor)
      .text((d, i) => labelValues[i]);
}
</script>
</body>
</html>
